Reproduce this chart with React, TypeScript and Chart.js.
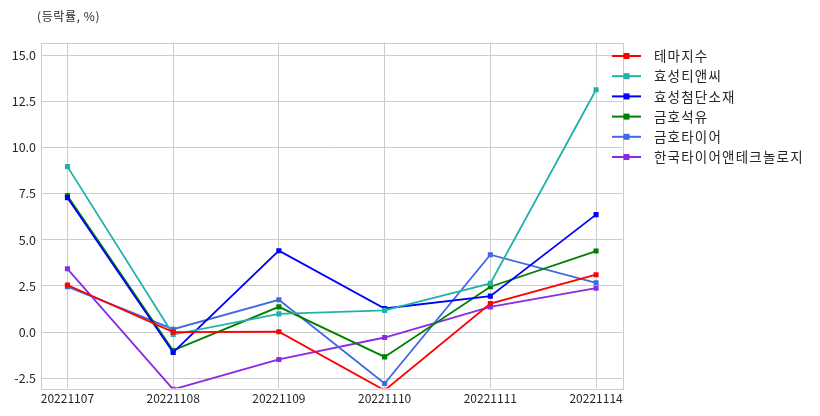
import React, { useEffect, useRef } from "react";
import { Chart, registerables } from "chart.js";

Chart.register(...registerables);

const dates = ["20221107", "20221108", "20221109", "20221110", "20221111", "20221114"];
const seriesNames = ["테마지수", "효성티앤씨", "효성첨단소재", "금호석유", "금호타이어", "한국타이어앤테크놀로지"];
const seriesColors = ["#FF0000", "#20B2AA", "#0000FF", "#008000", "#4169E1", "#8A2BE2"];
const themeIndex = [2.55, 0.0, 0.02, -3.15, 1.55, 3.11];
const hyosungTnc = [8.96, -0.13, 0.99, 1.18, 2.64, 13.12];
const hyosungAdv = [7.28, -1.1, 4.41, 1.28, 1.95, 6.36];
const kumhoPetro = [7.39, -0.99, 1.37, -1.34, 2.46, 4.39];
const kumhoTire = [2.46, 0.16, 1.75, -2.78, 4.19, 2.67];
const hankookTire = [3.43, -3.1, -1.48, -0.29, 1.37, 2.38];
const seriesValues = [themeIndex, hyosungTnc, hyosungAdv, kumhoPetro, kumhoTire, hankookTire];
const yTickValues = [-2.5, 0, 2.5, 5, 7.5, 10, 12.5, 15];
const unitLabel = "(등락률, %)";

const FONT = "'Noto Sans CJK KR', 'Noto Sans', sans-serif";

export default function App() {
  const ref = useRef<HTMLCanvasElement | null>(null);
  useEffect(() => {
    if (!ref.current) return;
    const decor = {
      id: "decor",
      afterDraw(chart: any) {
        const ctx = chart.ctx;
        const a = chart.chartArea;
        ctx.save();
        ctx.strokeStyle = "#cccccc";
        ctx.lineWidth = 1;
        ctx.strokeRect(Math.round(a.left) + 0.5, Math.round(a.top) + 0.5, Math.round(a.right - a.left), Math.round(a.bottom - a.top));
        ctx.fillStyle = "#262626";
        ctx.font = `12px ${FONT}`;
        (ctx as any).letterSpacing = "0.6px";
        ctx.textBaseline = "middle";
        ctx.textAlign = "left";
        ctx.fillText(unitLabel, 37, 16);
        ctx.font = `13.5px ${FONT}`;
        (ctx as any).letterSpacing = "1.2px";
        seriesNames.forEach((name, i) => {
          const y = 56 + i * 20.2;
          ctx.strokeStyle = seriesColors[i];
          ctx.lineWidth = 2;
          ctx.beginPath();
          ctx.moveTo(612, y);
          ctx.lineTo(641, y);
          ctx.stroke();
          ctx.fillStyle = seriesColors[i];
          ctx.fillRect(623.5, y - 3, 6, 6);
          ctx.fillStyle = "#262626";
          ctx.fillText(name, 654, y);
        });
        ctx.restore();
      },
    };
    const chart = new Chart(ref.current, {
      type: "line",
      data: {
        datasets: seriesNames.map((name, i) => ({
          label: name,
          data: seriesValues[i].map((v, j) => ({ x: j, y: v })),
          borderColor: seriesColors[i],
          backgroundColor: seriesColors[i],
          borderWidth: 1.8,
          pointStyle: "rect",
          pointRadius: 3.6,
          pointBorderWidth: 0,
          pointHoverRadius: 3.6,
          tension: 0,
          clip: 0,
        })),
      },
      options: {
        animation: false,
        responsive: false,
        events: [],
        layout: { padding: { top: 42.5, right: 197.5, bottom: 0, left: 0 } },
        plugins: { legend: { display: false }, tooltip: { enabled: false } },
        scales: {
          x: {
            type: "linear",
            min: -0.25,
            max: 5.25,
            afterFit: (s: any) => { s.height = 27.7; },
            afterBuildTicks: (s: any) => { s.ticks = dates.map((_, i) => ({ value: i })); },
            ticks: {
              includeBounds: false,
              stepSize: 1,
              autoSkip: false,
              maxRotation: 0,
              padding: 3,
              color: "#262626",
              font: { family: FONT, size: 12 },
              callback: (v: any) => dates[v] ?? "",
            },
            grid: { color: "#cccccc", lineWidth: 1, drawTicks: false },
            border: { display: false },
          },
          y: {
            type: "linear",
            min: -3.04,
            max: 15.68,
            afterFit: (s: any) => { s.width = 41; },
            afterBuildTicks: (s: any) => { s.ticks = yTickValues.map((v) => ({ value: v })); },
            ticks: {
              includeBounds: false,
              padding: 5,
              color: "#262626",
              font: { family: FONT, size: 12.5 },
              callback: (v: any) => Number(v).toFixed(1),
            },
            grid: { color: "#cccccc", lineWidth: 1, drawTicks: false },
            border: { display: false },
          },
        },
      },
      plugins: [decor],
    });
    return () => chart.destroy();
  }, []);
  return (
    <div style={{ position: "fixed", left: 0, top: 0, width: 820, height: 416, background: "#fff" }}>
      <canvas ref={ref} width={820} height={416} style={{ width: 820, height: 416 }} />
    </div>
  );
}
